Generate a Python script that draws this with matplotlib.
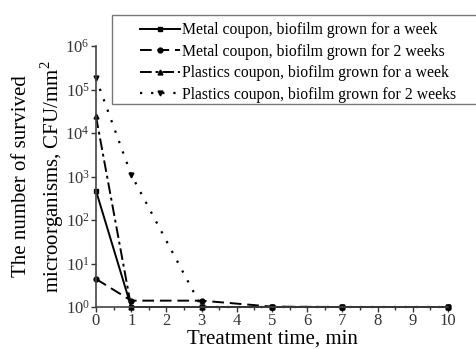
import matplotlib
matplotlib.use("Agg")
import matplotlib.pyplot as plt
from matplotlib.ticker import FixedLocator, LogLocator, NullLocator
from matplotlib.patches import Rectangle

plt.rcParams['font.family'] = ['Liberation Serif', 'DejaVu Serif']
plt.rcParams['mathtext.fontset'] = 'custom'
plt.rcParams['mathtext.rm'] = 'Liberation Serif'

time = [0, 1, 3, 5, 7, 10]
metal_week = [470, 1.0, 1.0, 1.0, 1.0, 1.0]
metal_2weeks = [4.4, 1.4, 1.4, 1.02, 1.0, 1.0]
plastic_week = [2.4e4, 1.0, 1.0, 1.0, 1.0, 1.0]
plastic_2weeks = [1.8e5, 1.1e3, 1.0, 1.0, 1.0, 1.0]

labels = ["Metal coupon, biofilm grown for a week",
          "Metal coupon, biofilm grown for 2 weeks",
          "Plastics coupon, biofilm grown for a week",
          "Plastics coupon, biofilm grown for 2 weeks"]

W, H = 476, 349
fig = plt.figure(figsize=(W/100, H/100), dpi=100)
ax = fig.add_axes([96/W, 1-307/H, (448-96)/W, (307-46)/H])

ax.plot(time, metal_week, color='black', ls='-', lw=1.4, marker='s', ms=3.5, label=labels[0])
ax.plot(time, metal_2weeks, color='black', ls=(0, (6, 3)), lw=1.4, marker='o', ms=3.5, label=labels[1])
ax.plot(time, plastic_week, color='black', ls=(0, (6, 2, 1.5, 2)), lw=1.4, marker='^', ms=3.5, label=labels[2])
ax.plot(time, plastic_2weeks, color='black', ls=(0, (1, 4)), lw=1.6, marker='v', ms=3.5, label=labels[3])

ax.set_yscale('log')
ax.set_ylim(1, 1e6)
ax.set_xlim(0, 10)
ax.yaxis.set_major_locator(LogLocator(base=10, numticks=10))
ax.yaxis.set_minor_locator(NullLocator())
ax.xaxis.set_major_locator(FixedLocator(range(0, 11)))
ax.xaxis.set_minor_locator(FixedLocator([i + 0.5 for i in range(10)]))
ax.spines['top'].set_visible(False)
ax.spines['right'].set_visible(False)
for s in ['left', 'bottom']:
    ax.spines[s].set_color('#444444')
    ax.spines[s].set_linewidth(1.2)
ax.tick_params(axis='both', which='major', direction='out', length=3.5, width=1, labelsize=12, colors='#333333', pad=1)
ax.tick_params(axis='x', which='minor', direction='out', length=2.5, width=1, colors='#333333')
for l in ax.lines:
    l.set_clip_on(False)

ax.set_xlabel("Treatment time, min", fontsize=15)
ax.xaxis.set_label_coords(0.5, -23/261)
ax.set_ylabel("The number of survived\nmicroorganisms, CFU/mm$^2$", fontsize=15, linespacing=1.35)
ax.yaxis.set_label_coords(-30/352, 0.5)

# legend frame
fig.patches.append(Rectangle((112/W, 1-104/H), (W+5-112)/W, (104-15)/H, transform=fig.transFigure,
                             fill=True, facecolor='white', edgecolor='#777777', linewidth=1.0, zorder=3))
leg = fig.legend(loc='upper left', bbox_to_anchor=(140/W, 1-22/H), fontsize=11.3,
                 frameon=False, handlelength=2.55, handletextpad=0.1, labelspacing=0.36,
                 borderpad=0, borderaxespad=0)
leg.set_zorder(4)

fig.savefig("out.png", dpi=100)
